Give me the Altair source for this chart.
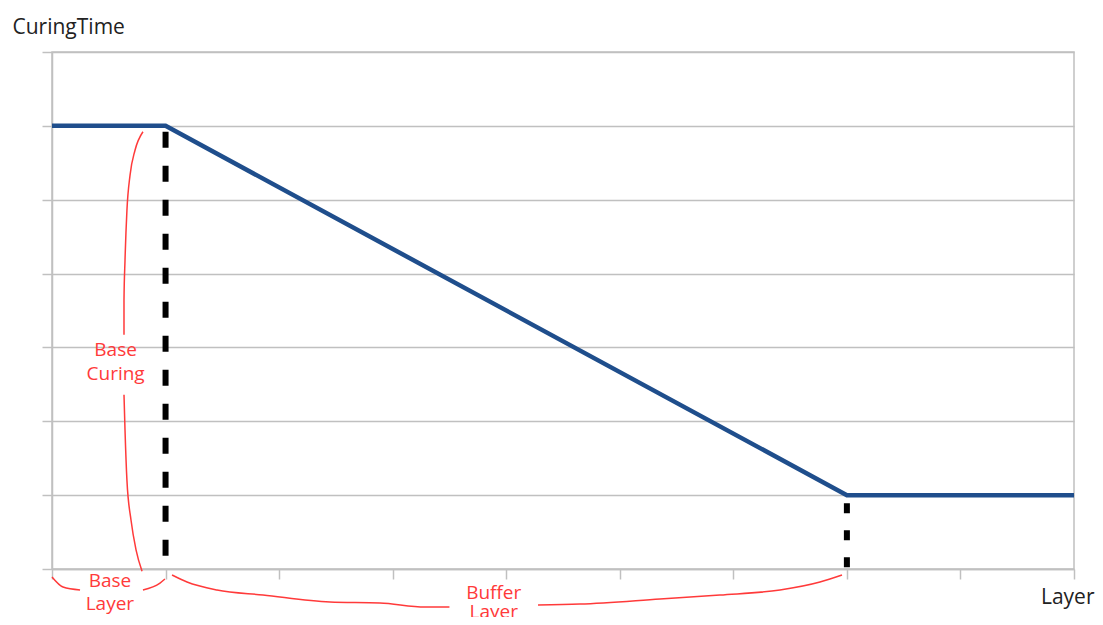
import altair as alt
import pandas as pd

# ---- data ----
layer_x = [0, 1, 7, 9]
curing_y = [6, 6, 1, 1]

# dashed guides: x position, top, bottom
guide_x = [1, 7]
guide_top = [6, 1]
guide_bottom = [0, 0]

# curly-brace annotation paths (data units)
brace_id = (["curing_top"] * 7 + ["curing_bot"] * 6 +
            ["base_l"] * 3 + ["base_r"] * 3 +
            ["buf_l"] * 8 + ["buf_r"] * 7)
brace_x = [0.801, 0.731, 0.687, 0.660, 0.643, 0.634, 0.634,
           0.634, 0.643, 0.660, 0.696, 0.740, 0.793,
           0.0, 0.097, 0.247,
           0.801, 0.951, 0.995,
           1.057, 1.189, 1.453, 1.858, 2.448, 2.888, 3.285, 3.50,
           4.28, 4.649, 5.354, 5.882, 6.411, 6.763, 6.957]
brace_y = [5.92, 5.67, 5.33, 4.86, 4.18, 3.64, 3.17,
           2.36, 1.88, 1.20, 0.66, 0.26, -0.03,
           -0.108, -0.244, -0.284,
           -0.284, -0.190, -0.135,
           -0.081, -0.176, -0.284, -0.352, -0.447, -0.460, -0.514, -0.514,
           -0.487, -0.474, -0.406, -0.352, -0.284, -0.176, -0.081]
brace_order = list(range(len(brace_x)))

# annotation labels
label_text = ["Base", "Curing", "Base", "Layer", "Buffer", "Layer"]
label_x = [0.56, 0.56, 0.51, 0.51, 3.89, 3.89]
label_y = [2.88, 2.56, -0.245, -0.55, -0.40, -0.66]

line_df = pd.DataFrame({"Layer": layer_x, "CuringTime": curing_y})
guide_df = pd.DataFrame({"x": guide_x, "top": guide_top, "bottom": guide_bottom})
brace_df = pd.DataFrame({"id": brace_id, "x": brace_x, "y": brace_y, "o": brace_order})
label_df = pd.DataFrame({"t": label_text, "x": label_x, "y": label_y})

FONT = "Open Sans"
GRAY = "#c0c0c0"
RED = "#ff3a3a"
BLUE = "#1f4e8c"

xscale = alt.Scale(domain=[0, 9], nice=False, zero=False)
yscale = alt.Scale(domain=[0, 7], nice=False, zero=False)

xaxis = alt.Axis(values=list(range(10)), labels=False, grid=False, tickSize=10,
                 tickColor=GRAY, tickWidth=1.5, domainColor=GRAY, domainWidth=1.5,
                 title="Layer", titleFont=FONT, titleFontSize=21, titleFontWeight="normal",
                 titleColor="#222222", titleAlign="right", titleBaseline="alphabetic",
                 titleX=1042, titleY=34, titleAnchor="start")
yaxis = alt.Axis(values=list(range(8)), labels=False, grid=True, gridColor=GRAY, gridWidth=1.5,
                 tickSize=10, tickColor=GRAY, tickWidth=1.5, domainColor=GRAY, domainWidth=1.5,
                 title="CuringTime", titleFont=FONT, titleFontSize=21, titleFontWeight="normal",
                 titleColor="#222222", titleAngle=0, titleAlign="left", titleBaseline="alphabetic",
                 titleX=-40, titleY=-19, titleAnchor="start")

line = alt.Chart(line_df).mark_line(color=BLUE, strokeWidth=4.5, clip=False).encode(
    x=alt.X("Layer:Q", scale=xscale, axis=xaxis),
    y=alt.Y("CuringTime:Q", scale=yscale, axis=yaxis),
)

guide1 = alt.Chart(guide_df.iloc[[0]]).mark_rule(
    color="black", strokeWidth=6, strokeDash=[16, 18], strokeDashOffset=28).encode(
    x=alt.X("x:Q", scale=xscale), y=alt.Y("top:Q", scale=yscale), y2="bottom:Q")
guide2 = alt.Chart(guide_df.iloc[[1]]).mark_rule(
    color="black", strokeWidth=6, strokeDash=[10, 17], strokeDashOffset=19).encode(
    x=alt.X("x:Q", scale=xscale), y=alt.Y("top:Q", scale=yscale), y2="bottom:Q")

braces = alt.Chart(brace_df).mark_line(color=RED, strokeWidth=1.5, clip=False,
                                       interpolate="monotone").encode(
    x=alt.X("x:Q", scale=xscale), y=alt.Y("y:Q", scale=yscale),
    detail="id:N", order="o:Q")

labels = alt.Chart(label_df).mark_text(color=RED, font=FONT, fontSize=19, align="center",
                                       baseline="alphabetic", clip=False).encode(
    x=alt.X("x:Q", scale=xscale), y=alt.Y("y:Q", scale=yscale), text="t:N")

chart = alt.layer(guide1, guide2, line, braces, labels).properties(
    width=1022, height=517,
    autosize=alt.AutoSizeParams(type="none"),
    padding={"left": 44, "top": 44, "right": 21, "bottom": 48},
).configure_view(stroke=GRAY, strokeWidth=1.5)

chart.save("out.html", embed_options={"renderer": "svg", "actions": False})
